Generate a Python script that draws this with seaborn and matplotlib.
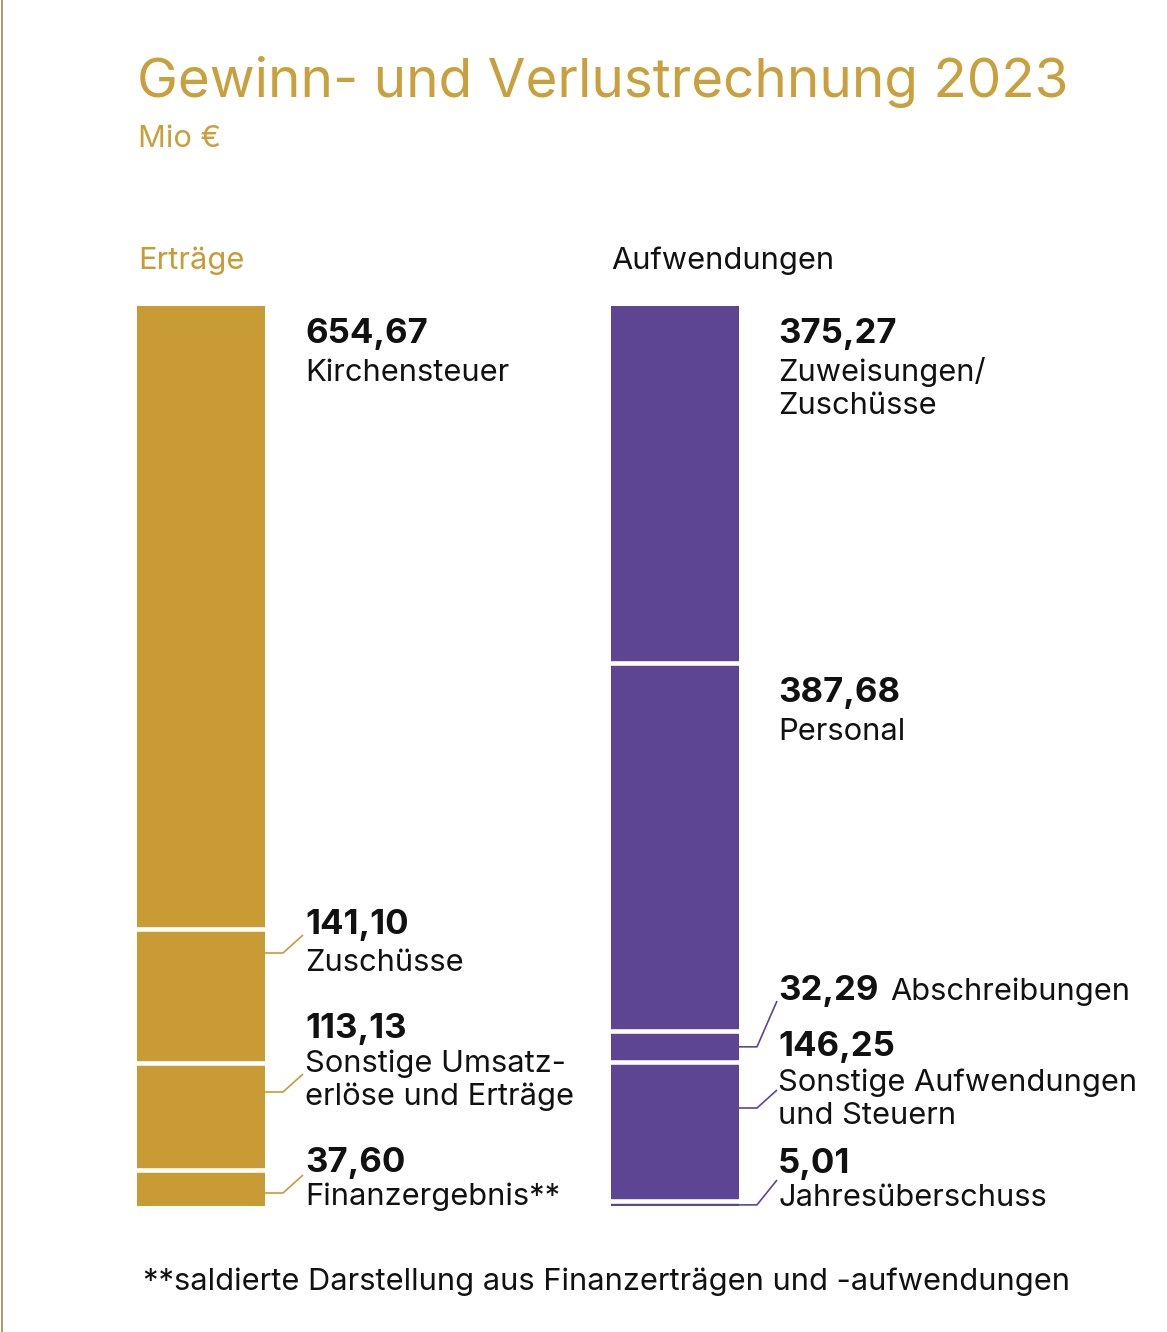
import numpy as np
import pandas as pd
import matplotlib
matplotlib.use("Agg")
import matplotlib.pyplot as plt
import seaborn as sns
from matplotlib.lines import Line2D

# ---------------- data ----------------
groups = ["Erträge", "Aufwendungen"]
ertraege_items = ["Kirchensteuer", "Zuschüsse", "Sonstige Umsatz-\nerlöse und Erträge", "Finanzergebnis**"]
ertraege_values = [654.67, 141.10, 113.13, 37.60]
aufwendungen_items = ["Zuweisungen/\nZuschüsse", "Personal", "Abschreibungen",
                      "Sonstige Aufwendungen\nund Steuern", "Jahresüberschuss"]
aufwendungen_values = [375.27, 387.68, 32.29, 146.25, 5.01]
title = "Gewinn- und Verlustrechnung 2023"
unit = "Mio €"
footnote = "**saldierte Darstellung aus Finanzerträgen und -aufwendungen"


def fmt(v):
    return f"{v:.2f}".replace(".", ",")


GOLD = "#C99B35"
PURPLE = "#5E4594"
TITLE_GOLD = "#C9A03C"
INK = "#111111"

sns.set_theme(style="white")
plt.rcParams["font.family"] = ["Inter", "DejaVu Sans"]

W, H = 1167, 1332
fig = plt.figure(figsize=(W / 100, H / 100), dpi=100)
fig.patch.set_facecolor("white")
BAR_TOP, BAR_BOT = 306, 1206
ax = fig.add_axes([0, (H - BAR_BOT) / H, 1, (BAR_BOT - BAR_TOP) / H])

rows = []
for g, items, vals in [(groups[0], ertraege_items, ertraege_values),
                       (groups[1], aufwendungen_items, aufwendungen_values)]:
    start = 0.0
    for it, v in zip(items, vals):
        rows.append(dict(group=g, item=it, value=v, start=start))
        start += v
df = pd.DataFrame(rows)

SPACING = 474.0
BAR_W = 128 / SPACING
colors = {groups[0]: GOLD, groups[1]: PURPLE}
for _, r in df.iterrows():
    sns.barplot(x=[r.group], y=[r.value], bottom=r.start, order=groups,
                color=colors[r.group], width=BAR_W, errorbar=None, ax=ax,
                linewidth=0, saturation=1)

total = max(sum(ertraege_values), sum(aufwendungen_values))
ax.set_xlim(-201 / SPACING, (W - 201) / SPACING)
ax.set_ylim(total, 0)
ax.axis("off")

# white separators between segments
for gi, vals in enumerate([ertraege_values, aufwendungen_values]):
    bounds = np.cumsum(vals)[:-1]
    ax.hlines(bounds, gi - BAR_W / 2 - 0.01, gi + BAR_W / 2 + 0.01, color="white", lw=3.3)


def ftext(xpx, ypx, s, **kw):
    return fig.text(xpx / W, 1 - ypx / H, s, va="baseline", ha="left", **kw)


# thin vertical rule at left edge
fig.add_artist(Line2D([1.5 / W, 1.5 / W], [0, 1], color="#B8976A", lw=1.4))

NAME_FS = 22.2
VAL_FS = 25
LINE = 33

ftext(137, 97, title, fontsize=39.5, color=TITLE_GOLD)
ftext(138, 147, unit, fontsize=NAME_FS, color=TITLE_GOLD)
ftext(138, 269, groups[0], fontsize=NAME_FS, color=GOLD)
ftext(611, 269, groups[1], fontsize=NAME_FS, color=INK)
ftext(143, 1290, footnote, fontsize=NAME_FS, color=INK)

# label layout (pixel positions)
left_val_y = [343, 934, 1038, 1172]
left_name_y = [381, 971, 1072, 1205]
right_val_y = [343, 702, 1000, 1056, 1173]
right_name_y = [381, 740, None, 1091, 1206]

fig.canvas.draw()
renderer = fig.canvas.get_renderer()

for x0, items, vals, vys, nys in [(305, ertraege_items, ertraege_values, left_val_y, left_name_y),
                                  (778, aufwendungen_items, aufwendungen_values, right_val_y, right_name_y)]:
    for it, v, vy, ny in zip(items, vals, vys, nys):
        t = ftext(x0, vy, fmt(v), fontsize=VAL_FS, fontweight="bold", color=INK)
        if ny is None:
            bb = t.get_window_extent(renderer)
            ftext(bb.x1 + 12, vy, it, fontsize=NAME_FS, color=INK)
        else:
            for k, line in enumerate(it.split("\n")):
                ftext(x0, ny + k * LINE, line, fontsize=NAME_FS, color=INK)

# connectors for the lower segments
left_conn = {1: 953, 2: 1092, 3: 1193}
right_conn = {2: 1019, 3: 1108, 4: 1198}


def data_to_px(v):
    return H - ax.transData.transform((0, v))[1]


for gi, vals, conn, col in [(0, ertraege_values, left_conn, GOLD),
                            (1, aufwendungen_values, right_conn, PURPLE)]:
    cum = np.concatenate([[0], np.cumsum(vals)])
    bar_right = ax.transData.transform((gi + BAR_W / 2, 0))[0]
    for idx, ref_y in conn.items():
        top = data_to_px(cum[idx]) + 2.5
        bot = min(data_to_px(cum[idx + 1]) - (2.5 if idx + 1 < len(vals) else 0), BAR_BOT)
        y = ref_y if (top + 2 <= ref_y <= bot - 2) else (top + bot) / 2
        xs = [bar_right, bar_right + 18, bar_right + 38]
        ys = [y, y, ref_y - 18]
        fig.add_artist(Line2D([x / W for x in xs], [1 - yy / H for yy in ys],
                              color=col, lw=1.2, solid_capstyle="butt"))

fig.savefig("out.png", dpi=100, facecolor="white")
